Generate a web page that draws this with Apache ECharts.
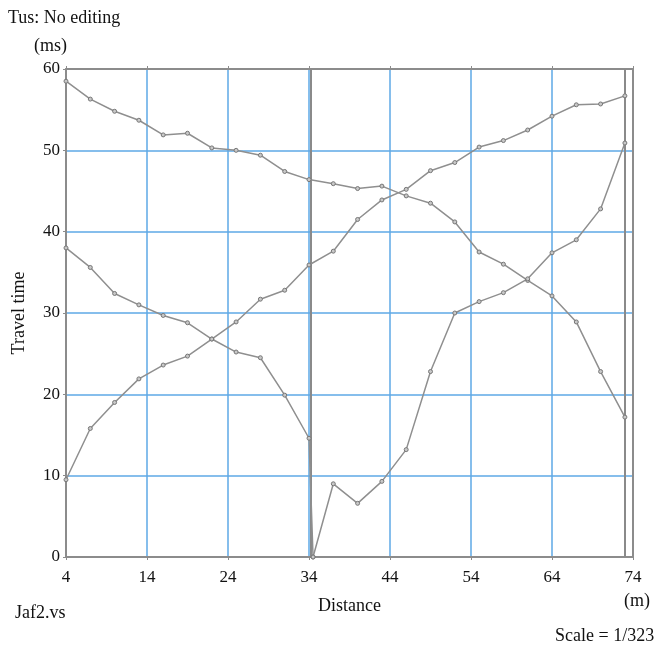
<!DOCTYPE html>
<html>
<head>
<meta charset="utf-8">
<script src="https://cdn.jsdelivr.net/npm/echarts@6/dist/echarts.min.js"></script>
<style>html,body{margin:0;padding:0;background:#fff;}#c{width:658px;height:647px;}</style>
</head>
<body>
<div id="c"></div>
<script>
// ---- data (distance in m, travel time in ms) ----
const xTicks = [4, 14, 24, 34, 44, 54, 64, 74];
const yTicks = [0, 10, 20, 30, 40, 50, 60];
const xAB = [4,7,10,13,16,19,22,25,28,31,34,37,40,43,46,49,52,55,58,61,64,67,70,73];
const seriesA = [58.5,56.3,54.8,53.7,51.9,52.1,50.3,50.0,49.4,47.4,46.4,45.9,45.3,45.6,44.4,43.5,41.2,37.5,36.0,34.0,32.1,28.9,22.8,17.2];
const seriesB = [9.5,15.8,19.0,21.9,23.6,24.7,26.8,28.9,31.7,32.8,35.9,37.6,41.5,43.9,45.2,47.5,48.5,50.4,51.2,52.5,54.2,55.6,55.7,56.7];
const xC = [4,7,10,13,16,19,22,25,28,31,34,34.5];
const seriesC = [38.0,35.6,32.4,31.0,29.7,28.8,26.8,25.2,24.5,19.9,14.6,0];
const xD = [34.5,37,40,43,46,49,52,55,58,61,64,67,70,73];
const seriesD = [0,9.0,6.6,9.3,13.2,22.8,30.0,31.4,32.5,34.2,37.4,39.0,42.8,50.9];
const markerX = [34.2, 73];

// axis origin offset so that ticks fall on 4, 14, ... 74
const X0 = xTicks[0];
const pairs = (xs, ys) => xs.map((x, i) => [x - X0, ys[i]]);

const FONT = 'Liberation Serif';
const GRID_BLUE = '#5ea9e6';
const AXIS_GRAY = '#8c8c8c';

const lineSeries = (data) => ({
  type: 'line',
  data: data,
  symbol: 'circle',
  symbolSize: 4,
  lineStyle: { color: '#8f8f8f', width: 1.5 },
  itemStyle: { color: '#c8c8c8', borderColor: '#777777', borderWidth: 1 },
  animation: false,
  z: 5
});

const chart = echarts.init(document.getElementById('c'), null, { renderer: 'canvas' });
chart.setOption({
  backgroundColor: '#ffffff',
  animation: false,
  grid: { left: 66, right: 25, top: 69, bottom: 90, containLabel: false },
  xAxis: [{
    type: 'value',
    min: 0,
    max: xTicks[xTicks.length - 1] - X0,
    interval: 10,
    position: 'bottom',
    name: 'Distance',
    nameLocation: 'middle',
    nameGap: 40,
    nameTextStyle: { fontFamily: FONT, fontSize: 18, color: '#111' },
    axisLine: { show: true, onZero: false, lineStyle: { color: AXIS_GRAY, width: 2 } },
    axisTick: { show: true, inside: false, length: 3, lineStyle: { color: AXIS_GRAY } },
    axisLabel: { fontFamily: FONT, fontSize: 17, color: '#111', margin: 12, formatter: v => String(v + X0) },
    splitLine: { show: true, showMinLine: false, showMaxLine: false, lineStyle: { color: GRID_BLUE, width: 1.5 } }
  }, {
    type: 'value',
    min: 0,
    max: xTicks[xTicks.length - 1] - X0,
    interval: 10,
    position: 'top',
    axisLine: { show: true, onZero: false, lineStyle: { color: AXIS_GRAY, width: 2 } },
    axisTick: { show: true, inside: false, length: 3, lineStyle: { color: AXIS_GRAY } },
    axisLabel: { show: false },
    splitLine: { show: false }
  }],
  yAxis: [{
    type: 'value',
    min: yTicks[0],
    max: yTicks[yTicks.length - 1],
    interval: 10,
    position: 'left',
    name: 'Travel time',
    nameLocation: 'middle',
    nameGap: 38,
    nameRotate: 90,
    nameTextStyle: { fontFamily: FONT, fontSize: 18, color: '#111' },
    axisLine: { show: true, onZero: false, lineStyle: { color: AXIS_GRAY, width: 2 } },
    axisTick: { show: true, inside: false, length: 3, lineStyle: { color: AXIS_GRAY } },
    axisLabel: { fontFamily: FONT, fontSize: 17, color: '#111', margin: 6 },
    splitLine: { show: true, showMinLine: false, showMaxLine: false, lineStyle: { color: GRID_BLUE, width: 1.5 } }
  }, {
    type: 'value',
    min: yTicks[0],
    max: yTicks[yTicks.length - 1],
    interval: 10,
    position: 'right',
    axisLine: { show: true, onZero: false, lineStyle: { color: AXIS_GRAY, width: 2 } },
    axisTick: { show: false },
    axisLabel: { show: false },
    splitLine: { show: false }
  }],
  series: [
    Object.assign(lineSeries(pairs(xAB, seriesA)), {
      markLine: {
        silent: true,
        symbol: 'none',
        label: { show: false },
        lineStyle: { color: '#8a8a8a', type: 'solid', width: 2 },
        data: markerX.map(x => ({ xAxis: x - X0 }))
      }
    }),
    lineSeries(pairs(xAB, seriesB)),
    lineSeries(pairs(xC, seriesC)),
    lineSeries(pairs(xD, seriesD))
  ],
  graphic: [
    { type: 'text', left: 8, top: 9, style: { text: 'Tus: No editing', font: '18px "Liberation Serif"', fill: '#111' } },
    { type: 'text', left: 34, top: 37, style: { text: '(ms)', font: '18px "Liberation Serif"', fill: '#111' } },
    { type: 'text', left: 624, top: 592, style: { text: '(m)', font: '18px "Liberation Serif"', fill: '#111' } },
    { type: 'text', left: 15, top: 604, style: { text: 'Jaf2.vs', font: '18px "Liberation Serif"', fill: '#111' } },
    { type: 'text', left: 555, top: 627, style: { text: 'Scale = 1/323', font: '18px "Liberation Serif"', fill: '#111' } }
  ]
});
</script>
</body>
</html>
